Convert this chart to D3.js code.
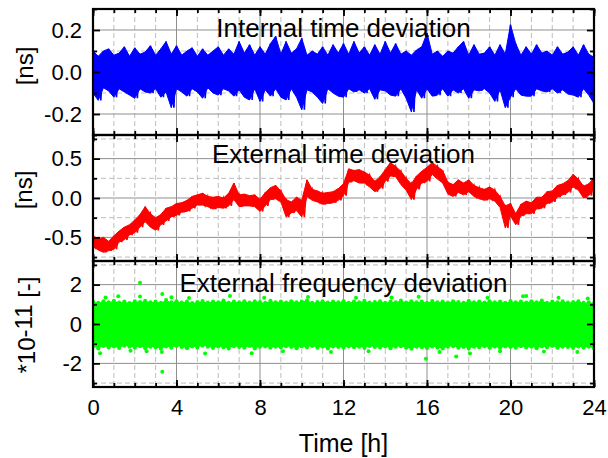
<!DOCTYPE html>
<html>
<head>
<meta charset="utf-8">
<script src="https://d3js.org/d3.v7.min.js"></script>
<style>
  body { margin: 0; background: #fff; }
  svg { display: block; }
</style>
</head>
<body>
<div id="chart"></div>
<script>
	/*
	 * Data, one sample every 15 minutes (0 .. 24 h)
	 */
	var hourTicks = [0, 4, 8, 12, 16, 20, 24];
	var sampleStep = 0.25;

	// Internal time deviation [ns], upper / lower edge of the trace
	var internalHi = [
		0.100, 0.075, 0.100, 0.110, 0.080, 0.090, 0.120, 0.075, 0.115, 0.085, 0.095, 0.125,
		0.080, 0.110, 0.145, 0.085, 0.125, 0.080, 0.100, 0.115, 0.075, 0.110, 0.080, 0.100,
		0.120, 0.080, 0.110, 0.085, 0.145, 0.090, 0.130, 0.080, 0.120, 0.085, 0.135, 0.170,
		0.085, 0.145, 0.090, 0.110, 0.160, 0.080, 0.100, 0.085, 0.120, 0.080, 0.130, 0.090,
		0.135, 0.085, 0.145, 0.090, 0.120, 0.080, 0.130, 0.085, 0.145, 0.090, 0.135, 0.085,
		0.100, 0.080, 0.105, 0.120, 0.185, 0.085, 0.100, 0.075, 0.100, 0.090, 0.120, 0.145,
		0.080, 0.130, 0.085, 0.090, 0.120, 0.080, 0.130, 0.085, 0.225, 0.135, 0.080, 0.120,
		0.085, 0.130, 0.090, 0.100, 0.080, 0.120, 0.085, 0.095, 0.120, 0.080, 0.130, 0.085,
		0.070
	];
	var internalLo = [
		-0.100, -0.135, -0.075, -0.090, -0.120, -0.080, -0.095, -0.110, -0.125, -0.080, -0.095, -0.100,
		-0.080, -0.120, -0.095, -0.170, -0.080, -0.095, -0.115, -0.080, -0.095, -0.125, -0.075, -0.100,
		-0.110, -0.080, -0.090, -0.115, -0.085, -0.120, -0.133, -0.080, -0.140, -0.085, -0.115, -0.080,
		-0.120, -0.133, -0.080, -0.120, -0.180, -0.085, -0.095, -0.120, -0.150, -0.080, -0.100, -0.115,
		-0.120, -0.080, -0.095, -0.085, -0.100, -0.080, -0.130, -0.085, -0.090, -0.110, -0.115, -0.080,
		-0.125, -0.190, -0.085, -0.125, -0.080, -0.115, -0.110, -0.080, -0.115, -0.085, -0.100, -0.080,
		-0.125, -0.085, -0.090, -0.080, -0.100, -0.140, -0.085, -0.170, -0.120, -0.080, -0.110, -0.115,
		-0.115, -0.080, -0.090, -0.095, -0.080, -0.100, -0.085, -0.105, -0.110, -0.120, -0.080, -0.110,
		-0.150
	];

	// External time deviation [ns]
	var externalHi = [
		-0.48, -0.52, -0.50, -0.55, -0.48, -0.42, -0.37, -0.34, -0.28, -0.21, -0.11, -0.20,
		-0.25, -0.21, -0.13, -0.11, -0.07, -0.06, -0.03, 0.02, 0.04, 0.06, 0.02, 0.01,
		0.02, 0.00, 0.06, 0.19, 0.04, 0.05, 0.03, 0.04, -0.02, 0.07, 0.13, 0.16,
		0.09, -0.02, -0.05, 0.01, -0.03, 0.23, 0.11, 0.09, 0.06, 0.07, 0.08, 0.12,
		0.18, 0.37, 0.35, 0.36, 0.33, 0.29, 0.21, 0.27, 0.36, 0.45, 0.40, 0.34,
		0.25, 0.18, 0.28, 0.34, 0.39, 0.45, 0.40, 0.35, 0.20, 0.17, 0.23, 0.19,
		0.23, 0.16, 0.13, 0.11, 0.14, 0.10, 0.02, -0.10, -0.07, -0.20, -0.08, -0.04,
		-0.06, 0.01, 0.01, 0.08, 0.09, 0.16, 0.18, 0.22, 0.30, 0.24, 0.15, 0.18,
		0.26
	];
	var externalLo = [
		-0.62, -0.66, -0.69, -0.67, -0.65, -0.56, -0.53, -0.47, -0.44, -0.37, -0.30, -0.37,
		-0.41, -0.34, -0.29, -0.24, -0.22, -0.18, -0.17, -0.13, -0.09, -0.09, -0.11, -0.14,
		-0.12, -0.13, -0.10, -0.02, -0.11, -0.10, -0.10, -0.11, -0.17, -0.10, -0.02, -0.01,
		-0.05, -0.24, -0.19, -0.16, -0.24, 0.02, -0.03, -0.05, -0.08, -0.07, -0.06, -0.03,
		0.03, 0.20, 0.22, 0.19, 0.19, 0.14, 0.08, 0.12, 0.21, 0.28, 0.27, 0.17,
		0.10, -0.02, 0.11, 0.19, 0.21, 0.30, 0.24, 0.19, 0.05, 0.02, 0.07, 0.04,
		0.08, 0.02, -0.01, -0.03, -0.01, -0.04, -0.12, -0.38, -0.23, -0.34, -0.23, -0.20,
		-0.20, -0.14, -0.13, -0.07, -0.05, 0.01, 0.04, 0.07, 0.14, 0.10, 0.00, 0.03,
		0.14
	];

	// External frequency deviation [*10^-11], edge of the dense cloud of points
	var freqHi = [
		1.14, 1.08, 1.16, 1.10, 1.18, 1.09, 1.14, 1.07, 1.16, 1.12, 1.18, 1.10,
		1.14, 1.08, 1.22, 1.11, 1.16, 1.09, 1.14, 1.07, 1.12, 1.17, 1.09, 1.14,
		1.11, 1.19, 1.08, 1.14, 1.10, 1.16, 1.09, 1.15, 1.12, 1.08, 1.18, 1.11,
		1.14, 1.09, 1.16, 1.10, 1.14, 1.19, 1.08, 1.12, 1.16, 1.09, 1.14, 1.11,
		1.17, 1.08, 1.14, 1.10, 1.18, 1.09, 1.12, 1.16, 1.08, 1.14, 1.11, 1.19,
		1.09, 1.15, 1.10, 1.14, 1.08, 1.17, 1.11, 1.14, 1.09, 1.16, 1.12, 1.08,
		1.18, 1.10, 1.14, 1.09, 1.16, 1.11, 1.14, 1.08, 1.17, 1.10, 1.14, 1.09,
		1.16, 1.11, 1.19, 1.08, 1.14, 1.10, 1.16, 1.09, 1.12, 1.15, 1.08, 1.11,
		1.05
	];
	var freqLo = [
		-1.16, -1.24, -1.12, -1.19, -1.14, -1.22, -1.10, -1.16, -1.20, -1.13, -1.24, -1.15,
		-1.18, -1.26, -1.14, -1.20, -1.12, -1.17, -1.23, -1.14, -1.19, -1.11, -1.16, -1.22,
		-1.14, -1.18, -1.24, -1.13, -1.17, -1.20, -1.12, -1.25, -1.16, -1.14, -1.21, -1.15,
		-1.19, -1.13, -1.17, -1.23, -1.14, -1.18, -1.12, -1.20, -1.16, -1.24, -1.14, -1.17,
		-1.21, -1.13, -1.18, -1.15, -1.22, -1.12, -1.17, -1.19, -1.14, -1.23, -1.16, -1.13,
		-1.20, -1.26, -1.15, -1.18, -1.22, -1.14, -1.19, -1.25, -1.16, -1.13, -1.21, -1.17,
		-1.24, -1.15, -1.18, -1.13, -1.20, -1.16, -1.22, -1.14, -1.17, -1.21, -1.13, -1.19,
		-1.16, -1.23, -1.14, -1.18, -1.12, -1.20, -1.15, -1.17, -1.22, -1.14, -1.19, -1.16,
		-1.24
	];
	// scattered points outside the dense cloud: time [h], value
	var freqOutT = [0.34, 0.6, 1.21, 1.8, 2.25, 2.25, 2.57, 3.3, 3.32, 3.32, 3.76, 4.6, 5.37,
		6.56, 7.6, 8.2, 9.1, 10.3, 11.4, 12.6, 13.2, 14.3, 15.6, 15.95, 16.6, 17.4, 18.06,
		18.9, 19.5, 20.6, 20.75, 21.6, 22.3, 23.2, 23.7];
	var freqOutV = [-1.48, 1.34, 1.41, -1.36, 2.09, 1.40, -1.38, -1.42, 1.53, -2.42, 1.36, 1.32, -1.50,
		1.42, -1.48, 1.33, -1.38, 1.37, -1.42, 1.33, -1.38, 1.35, 1.38, -1.77, -1.42, -1.65, -1.50,
		1.33, -1.38, 1.41, 1.42, -1.40, 1.33, -1.42, 1.30];

	/*
	 * Layout
	 */
	var width = 608,
		height = 458,
		margin = {top: 9, right: 14, bottom: 71, left: 93},
		plotW = width - margin.left - margin.right,
		panelH = (height - margin.top - margin.bottom) / 3,
		fontFamily = "'Liberation Sans', Arial, sans-serif";

	var svg = d3.select("#chart").append("svg")
		.attr("width", width)
		.attr("height", height);

	var x = d3.scaleLinear().domain([0, 24]).range([0, plotW]);
	var hourMinor = d3.range(0, 25, 1);

	drawPanel(0, {
		domain: [-0.3, 0.3], major: [-0.2, 0, 0.2], minor: [-0.3, -0.1, 0.1, 0.3],
		format: function(d) { return d.toFixed(1); },
		hi: internalHi, lo: internalLo, color: "#0000ff",
		title: "Internal time deviation", titleY: 28,
		label: "[ns]", labelY: 57, labelX: 33
	});
	drawPanel(1, {
		domain: [-0.8, 0.8], major: [-0.5, 0, 0.5], minor: [-0.75, -0.25, 0.25, 0.75],
		format: function(d) { return d.toFixed(1); },
		hi: externalHi, lo: externalLo, color: "#ff0000",
		title: "External time deviation", titleY: 28,
		label: "[ns]", labelY: 55, labelX: 32
	});
	drawPanel(2, {
		domain: [-3.2, 3.2], major: [-2, 0, 2], minor: [-3, -1, 1, 3],
		format: function(d) { return String(d); },
		hi: freqHi, lo: freqLo, color: "#00ff00", dots: true,
		title: "External frequency deviation", titleY: 31,
		labelY: 64, labelX: 35
	});

	// x axis title
	svg.append("text")
		.attr("x", margin.left + plotW / 2)
		.attr("y", 452)
		.attr("text-anchor", "middle")
		.attr("font-family", fontFamily)
		.attr("font-size", 25)
		.text("Time [h]");

	/*
	 * One stacked panel: grid, trace, ticks, frame and texts
	 */
	function drawPanel(index, cfg) {
		var top = margin.top + index * panelH;
		var g = svg.append("g").attr("transform", "translate(" + margin.left + "," + top + ")");
		var y = d3.scaleLinear().domain(cfg.domain).range([panelH, 0]);
		var isLast = index === 2;

		// grid: solid on major, dashed on minor
		var grid = g.append("g").attr("fill", "none");
		grid.selectAll(".vmin")
			.data(hourMinor.filter(function(d) { return d % 4 !== 0; }))
			.enter().append("line")
				.attr("x1", x).attr("x2", x)
				.attr("y1", 0).attr("y2", panelH)
				.attr("stroke", "#bdbdbd").attr("stroke-dasharray", "5,3");
		grid.selectAll(".vmaj")
			.data(hourTicks.slice(1, -1))
			.enter().append("line")
				.attr("x1", x).attr("x2", x)
				.attr("y1", 0).attr("y2", panelH)
				.attr("stroke", "#8f8f8f");
		grid.selectAll(".hmin")
			.data(cfg.minor)
			.enter().append("line")
				.attr("x1", 0).attr("x2", plotW)
				.attr("y1", y).attr("y2", y)
				.attr("stroke", "#bdbdbd").attr("stroke-dasharray", "5,3");
		grid.selectAll(".hmaj")
			.data(cfg.major)
			.enter().append("line")
				.attr("x1", 0).attr("x2", plotW)
				.attr("y1", y).attr("y2", y)
				.attr("stroke", "#8f8f8f");

		// trace, clipped to the plot area
		svg.append("clipPath").attr("id", "clip" + index)
			.append("rect").attr("width", plotW).attr("height", panelH);

		var band = cfg.hi.map(function(h, i) {
			return {t: i * sampleStep, hi: h, lo: cfg.lo[i]};
		});

		var trace = g.append("g").attr("clip-path", "url(#clip" + index + ")");

		// filled band between the two edges
		trace.append("path")
			.datum(band)
			.attr("fill", cfg.color)
			.attr("stroke", cfg.color)
			.attr("stroke-width", cfg.dots ? 0 : 1)
			.attr("stroke-linejoin", "miter")
			.attr("d", d3.area()
				.x(function(d) { return x(d.t); })
				.y0(function(d) { return y(d.lo); })
				.y1(function(d) { return y(d.hi); }));

		if(!cfg.dots) {
			// the noisy trace: a zigzag running between the two edges
			var zig = [];
			band.forEach(function(d) {
				zig.push({t: d.t, v: d.hi});
				zig.push({t: d.t + sampleStep / 2, v: d.lo});
			});
			trace.append("path")
				.datum(zig)
				.attr("fill", "none")
				.attr("stroke", cfg.color)
				.attr("stroke-width", 1.6)
				.attr("d", d3.line()
					.x(function(d) { return x(d.t); })
					.y(function(d) { return y(d.v); }));
		} else {
			// dense cloud of points: outer points around the band
			var edge = [];
			band.forEach(function(d) {
				edge.push({t: d.t, v: d.hi});
				edge.push({t: d.t, v: d.lo});
			});
			freqOutT.forEach(function(t, i) {
				edge.push({t: t, v: freqOutV[i]});
			});
			trace.selectAll("circle")
				.data(edge)
				.enter().append("circle")
					.attr("cx", function(d) { return x(d.t); })
					.attr("cy", function(d) { return y(d.v); })
					.attr("r", 2)
					.attr("fill", cfg.color);
		}

		// ticks on all four sides, pointing inwards
		var axes = [
			{a: d3.axisLeft(y).tickValues(cfg.major).tickSize(-7).tickPadding(11).tickFormat(cfg.format), tr: null},
			{a: d3.axisLeft(y).tickValues(cfg.minor).tickSize(-4).tickFormat(""), tr: null},
			{a: d3.axisRight(y).tickValues(cfg.major).tickSize(-7).tickFormat(""), tr: [plotW, 0]},
			{a: d3.axisRight(y).tickValues(cfg.minor).tickSize(-4).tickFormat(""), tr: [plotW, 0]},
			{a: d3.axisTop(x).tickValues(hourTicks).tickSize(-7).tickFormat(""), tr: null},
			{a: d3.axisTop(x).tickValues(hourMinor).tickSize(-4).tickFormat(""), tr: null},
			{a: d3.axisBottom(x).tickValues(hourTicks).tickSize(-7).tickPadding(12)
				.tickFormat(isLast ? function(d) { return String(d); } : ""), tr: [0, panelH]},
			{a: d3.axisBottom(x).tickValues(hourMinor).tickSize(-4).tickFormat(""), tr: [0, panelH]}
		];
		axes.forEach(function(ax) {
			var ag = g.append("g");
			if(ax.tr) {
				ag.attr("transform", "translate(" + ax.tr[0] + "," + ax.tr[1] + ")");
			}
			ag.call(ax.a);
			ag.select(".domain").remove();
			ag.selectAll(".tick line").attr("stroke", "#000").attr("stroke-width", 1.8);
			ag.attr("font-family", fontFamily).attr("font-size", 22);
			ag.selectAll(".tick text").attr("fill", "#000");
		});

		// frame
		g.append("rect")
			.attr("width", plotW)
			.attr("height", panelH)
			.attr("fill", "none")
			.attr("stroke", "#000")
			.attr("stroke-width", 2.2);

		// panel title
		g.append("text")
			.attr("x", plotW / 2)
			.attr("y", cfg.titleY)
			.attr("text-anchor", "middle")
			.attr("font-family", fontFamily)
			.attr("font-size", 26)
			.text(cfg.title);

		// y axis label, rotated
		var lab = svg.append("text")
			.attr("transform", "translate(" + cfg.labelX + "," + (top + cfg.labelY) + ") rotate(-90)")
			.attr("text-anchor", "middle")
			.attr("font-family", fontFamily)
			.attr("font-size", 24);
		if(cfg.label) {
			lab.text(cfg.label);
		} else {
			lab.append("tspan").text("*10");
			lab.append("tspan").attr("dy", -3).text("-11");
			lab.append("tspan").attr("dy", 3).text(" [-]");
		}
	}
</script>
</body>
</html>
